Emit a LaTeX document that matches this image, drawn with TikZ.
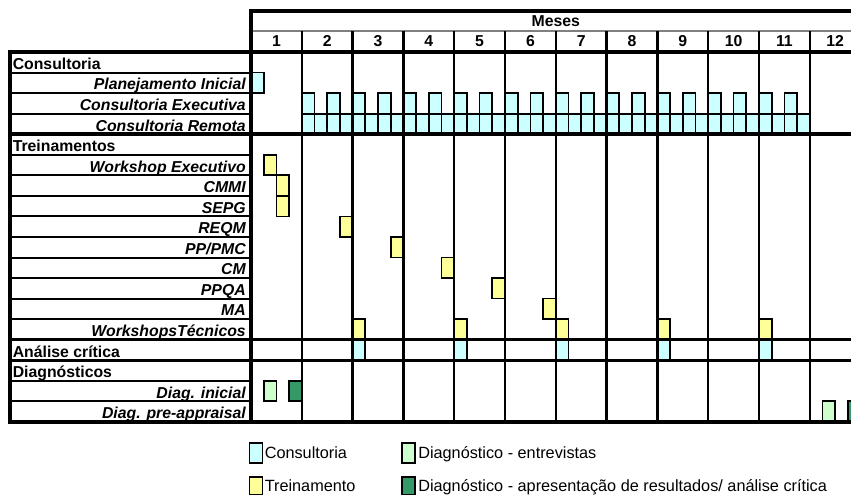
\documentclass[tikz,border=0pt]{standalone}
\usepackage{fontspec}
\setmainfont{Liberation Sans}
\definecolor{consultcyan}{HTML}{CCFFFF}
\definecolor{trainyellow}{HTML}{FFFF99}
\definecolor{diaglight}{HTML}{CCFFCC}
\definecolor{diagdark}{HTML}{339966}
% one sub-cell (quarter month) of the schedule: style, month, quarter, row
\newcommand\cellbar[4]{\draw[cellbox,#1] ({251+(#2-1)*50.8+(#3-1)*12.7},{52+(#4-1)*20.55}) rectangle ++(12.7,20.55);}
\newcommand\rowtop[1]{52+(#1-1)*20.55}
\begin{document}
\begin{tikzpicture}[x=0.75pt,y=-0.75pt,
  thinrule/.style={line width=1.5pt,line cap=rect},
  thickrule/.style={line width=2.6pt,line cap=rect},
  colrule/.style={line width=1.9pt},
  cellbox/.style={draw=black,line width=1.3pt},
  cyanbar/.style={fill=consultcyan},
  yellowbar/.style={fill=trainyellow},
  lightbar/.style={fill=diaglight},
  darkbar/.style={fill=diagdark},
  lbl/.style={inner sep=0pt,font=\fontsize{11.85}{14}\selectfont\bfseries},
  sectionlbl/.style={lbl,anchor=base west},
  itemlbl/.style={lbl,anchor=base east,font=\fontsize{11.85}{14}\selectfont\bfseries\itshape},
  monthlbl/.style={lbl,anchor=base},
  legendtxt/.style={inner sep=0pt,anchor=base west,font=\fontsize{12.2}{14}\selectfont},
  swatch/.style={draw=black,line width=1.4pt}]
\useasboundingbox (0,0) rectangle (851,496);
\begin{scope}
\clip (0,0) rectangle (851,496);

% ---- schedule bars ----
% Consultoria
\cellbar{cyanbar}{1}{1}{2}
\foreach \m in {2,...,11} {\cellbar{cyanbar}{\m}{1}{3}\cellbar{cyanbar}{\m}{3}{3}}
\foreach \m in {2,...,11} {\foreach \s in {1,...,4} {\cellbar{cyanbar}{\m}{\s}{4}}}
% Treinamentos
\cellbar{yellowbar}{1}{2}{6}
\cellbar{yellowbar}{1}{3}{7}
\cellbar{yellowbar}{1}{3}{8}
\cellbar{yellowbar}{2}{4}{9}
\cellbar{yellowbar}{3}{4}{10}
\cellbar{yellowbar}{4}{4}{11}
\cellbar{yellowbar}{5}{4}{12}
\cellbar{yellowbar}{6}{4}{13}
\foreach \m in {3,5,7,9,11} {\cellbar{yellowbar}{\m}{1}{14}\cellbar{cyanbar}{\m}{1}{15}}
% Diagnosticos
\cellbar{lightbar}{1}{2}{17}
\cellbar{darkbar}{1}{4}{17}
\cellbar{lightbar}{12}{2}{18}
\cellbar{darkbar}{12}{4}{18}

% ---- grid ----
\draw[thickrule] (251,11) -- (860,11);
\draw[gray,line width=0.8pt] (251,31) -- (860,31);
\foreach \m in {2,...,12} {\draw[colrule] ({251+(\m-1)*50.8},31) -- ({251+(\m-1)*50.8},{\rowtop{19}});}
\foreach \r in {2,3,4,6,7,8,9,10,11,12,13,14,17,18} {\draw[thinrule] (10,{\rowtop{\r}}) -- (251,{\rowtop{\r}});}
\foreach \r in {1,5,15,16,19} {\draw[thickrule] (10,{\rowtop{\r}}) -- (860,{\rowtop{\r}});}
\draw[thickrule] (10,52) -- (10,{\rowtop{19}});
\draw[thickrule] (251,11) -- (251,{\rowtop{19}});
\end{scope}

% ---- header ----
\node[monthlbl] (meses) at (555.8,26.5) {Meses};
\foreach \m in {1,...,12} {\node[monthlbl] (m\m) at ({251+(\m-0.5)*50.8},46.5) {\m};}

% ---- row labels ----
\node[sectionlbl] (consultoria) at (12.5,{\rowtop{2}-3.2}) {Consultoria};
\node[itemlbl] (planejamento) at (246,{\rowtop{3}-3.2}) {Planejamento Inicial};
\node[itemlbl] (executiva) at (246,{\rowtop{4}-3.2}) {Consultoria Executiva};
\node[itemlbl] (remota) at (246,{\rowtop{5}-3.2}) {Consultoria Remota};
\node[sectionlbl] (treinamentos) at (12.5,{\rowtop{6}-3.2}) {Treinamentos};
\node[itemlbl] (wsexec) at (246,{\rowtop{7}-3.2}) {Workshop Executivo};
\node[itemlbl] (cmmi) at (246,{\rowtop{8}-3.2}) {CMMI};
\node[itemlbl] (sepg) at (246,{\rowtop{9}-3.2}) {SEPG};
\node[itemlbl] (reqm) at (246,{\rowtop{10}-3.2}) {REQM};
\node[itemlbl] (pppmc) at (246,{\rowtop{11}-3.2}) {PP/PMC};
\node[itemlbl] (cm) at (246,{\rowtop{12}-3.2}) {CM};
\node[itemlbl] (ppqa) at (246,{\rowtop{13}-3.2}) {PPQA};
\node[itemlbl] (ma) at (246,{\rowtop{14}-3.2}) {MA};
\node[itemlbl] (wstec) at (246,{\rowtop{15}-3.2}) {WorkshopsTécnicos};
\node[sectionlbl] (analise) at (12.5,{\rowtop{16}-3.2}) {Análise crítica};
\node[sectionlbl] (diagnosticos) at (12.5,{\rowtop{17}-3.2}) {Diagnósticos};
\node[itemlbl] (diaginicial) at (246,{\rowtop{18}-3.2}) {Diag. inicial};
\node[itemlbl] (diagpre) at (246,{\rowtop{19}-3.2}) {Diag. pre-appraisal};

% ---- legend ----
\draw[swatch,fill=consultcyan] (249.5,443) rectangle (262.5,463);
\node[legendtxt] (lgconsult) at (264.5,458.5) {Consultoria};
\draw[swatch,fill=trainyellow] (249.5,477) rectangle (262.5,494.5);
\node[legendtxt] (lgtrain) at (264.5,491.5) {Treinamento};
\draw[swatch,fill=diaglight] (402,443) rectangle (415,463);
\node[legendtxt] (lgentrev) at (418,458.5) {Diagnóstico - entrevistas};
\draw[swatch,fill=diagdark] (402,477) rectangle (415,494.5);
\node[legendtxt] (lgapres) at (418,491.5) {Diagnóstico - apresentação de resultados/ análise crítica};
\end{tikzpicture}
\end{document}
